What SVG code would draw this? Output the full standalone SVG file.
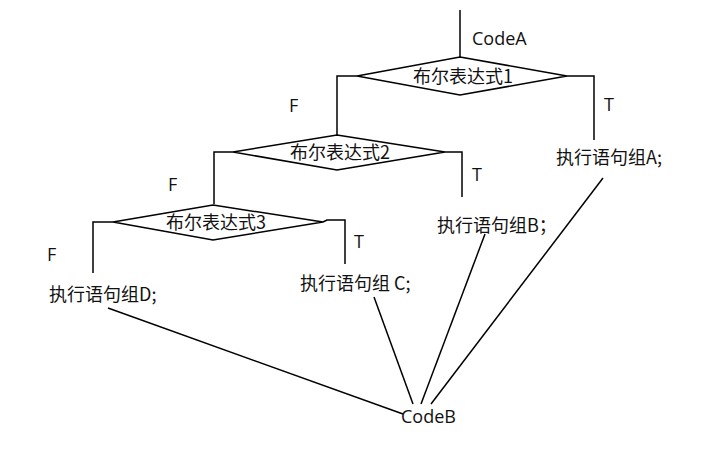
<svg xmlns="http://www.w3.org/2000/svg" width="713" height="459" viewBox="0 0 713 459">
<style>
.l{fill:none;stroke:#000;stroke-width:1.5}
.t{font-family:"Open Sans","Noto Sans CJK SC",sans-serif;font-size:18px;fill:#111}
.c{font-family:"Noto Sans CJK SC","Open Sans",sans-serif;font-size:18px;fill:#111}
</style>
<rect width="713" height="459" fill="#fff"/>
<g id="connectors">
<path class="l" d="M460,10 V57"/>
<path class="l" d="M357,76 H337 V135"/>
<path class="l" d="M567,76 H594 V140"/>
<path class="l" d="M233,152 H214 V204"/>
<path class="l" d="M445,152 H462 V197"/>
<path class="l" d="M113,222 H93 V273"/>
<path class="l" d="M323,222 L327,220 H345 V264"/>
<path class="l" d="M108,308 L403,414"/>
<path class="l" d="M374,297 L413,404"/>
<path class="l" d="M485,234 L421,404"/>
<path class="l" d="M603,178 L431,404"/>
</g>
<g id="codeA"><text class="t" x="472" y="45">CodeA</text></g>
<g id="cond1">
<polygon class="l" points="460,57 567,76 460,95 357,76"/>
<text class="c" x="463" y="83" text-anchor="middle">布尔表达式1</text>
</g>
<g id="cond2">
<polygon class="l" points="337,135 445,152 337,170 233,152"/>
<text class="c" x="340" y="159" text-anchor="middle">布尔表达式2</text>
</g>
<g id="cond3">
<polygon class="l" points="213,205 323,222 213,240 113,222"/>
<text class="c" x="216" y="229" text-anchor="middle">布尔表达式3</text>
</g>
<g id="labels">
<text class="t" x="289" y="112">F</text>
<text class="t" x="168" y="191">F</text>
<text class="t" x="47" y="261">F</text>
<text class="t" x="604" y="111">T</text>
<text class="t" x="472" y="181">T</text>
<text class="t" x="354" y="248">T</text>
</g>
<g id="stmtA"><text class="c" x="556" y="164">执行语句组A;</text></g>
<g id="stmtB"><text class="c" x="437" y="232">执行语句组B；</text></g>
<g id="stmtC"><text class="c" x="300" y="290">执行语句组 C;</text></g>
<g id="stmtD"><text class="c" x="49" y="301">执行语句组D;</text></g>
<g id="codeB"><text class="t" x="401" y="423">CodeB</text></g>
</svg>
